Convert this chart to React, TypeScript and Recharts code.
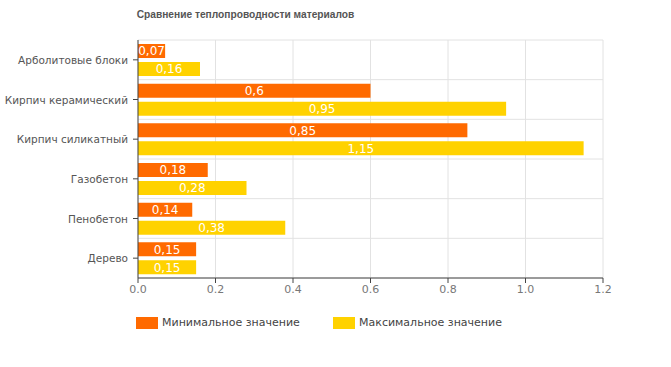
import React from "react";
import { BarChart, Bar, XAxis, YAxis, CartesianGrid, LabelList } from "recharts";

const categories = [
  "Арболитовые блоки",
  "Кирпич керамический",
  "Кирпич силикатный",
  "Газобетон",
  "Пенобетон",
  "Дерево",
];
const minValues = [0.07, 0.6, 0.85, 0.18, 0.14, 0.15];
const maxValues = [0.16, 0.95, 1.15, 0.28, 0.38, 0.15];
const xTicks = [0, 0.2, 0.4, 0.6, 0.8, 1.0, 1.2];
const seriesNames = ["Минимальное значение", "Максимальное значение"];

const ORANGE = "#ff6a00";
const YELLOW = "#ffd200";
const FONT = "'DejaVu Sans', Verdana, sans-serif";

const data = categories.map((name, i) => ({ name, min: minValues[i], max: maxValues[i] }));

const fmt = (v: any) => String(v).replace(".", ",");

const CategoryTick = (props: any) => {
  const { x, y, payload } = props;
  return (
    <text x={x - 3} y={y} dy={4} textAnchor="end" fill="#555" fontSize={10.5} fontFamily={FONT}>
      {payload.value}
    </text>
  );
};

export default function App() {
  return (
    <div style={{ position: "fixed", left: 0, top: 0, width: 671, height: 367, background: "#fff", fontFamily: FONT }}>
      <div
        style={{
          position: "absolute",
          left: 0,
          width: 491,
          top: 9,
          textAlign: "center",
          fontSize: 10.2,
          fontWeight: "bold",
          fontFamily: "'Liberation Sans', Arial, sans-serif",
          color: "#555",
        }}
      >
        Сравнение теплопроводности материалов
      </div>
      <BarChart
        width={671}
        height={367}
        data={data}
        layout="vertical"
        margin={{ top: 40, right: 68, bottom: 59, left: 0 }}
        barSize={14}
        barGap={4}
      >
        <CartesianGrid
          stroke="#e2e2e2"
          horizontalCoordinatesGenerator={({ offset }: any) =>
            categories.map((_, i) => offset.top + (offset.height * i) / categories.length).concat([offset.top + offset.height])
          }
        />
        <XAxis
          type="number"
          domain={[0, 1.2]}
          ticks={xTicks}
          tickFormatter={(v: number) => v.toFixed(1)}
          stroke="#444"
          tick={{ fill: "#777", fontSize: 11, fontFamily: FONT }}
          tickSize={5}
          height={30}
        />
        <YAxis
          type="category"
          dataKey="name"
          width={138}
          stroke="#444"
          tick={<CategoryTick />}
          tickSize={5}
        />
        <Bar dataKey="min" fill={ORANGE} isAnimationActive={false}>
          <LabelList dataKey="min" position="center" formatter={fmt} fill="#fff" fontSize={12} fontFamily={FONT} />
        </Bar>
        <Bar dataKey="max" fill={YELLOW} isAnimationActive={false}>
          <LabelList dataKey="max" position="center" formatter={fmt} fill="#fff" fontSize={12} fontFamily={FONT} />
        </Bar>
      </BarChart>
      <div style={{ position: "absolute", left: 136, top: 316, display: "flex", fontSize: 11, color: "#444" }}>
        <div style={{ display: "flex", alignItems: "center", width: 197 }}>
          <span style={{ display: "inline-block", width: 22, height: 12, background: ORANGE, marginRight: 4 }} />
          {seriesNames[0]}
        </div>
        <div style={{ display: "flex", alignItems: "center" }}>
          <span style={{ display: "inline-block", width: 22, height: 12, background: YELLOW, marginRight: 4 }} />
          {seriesNames[1]}
        </div>
      </div>
    </div>
  );
}
